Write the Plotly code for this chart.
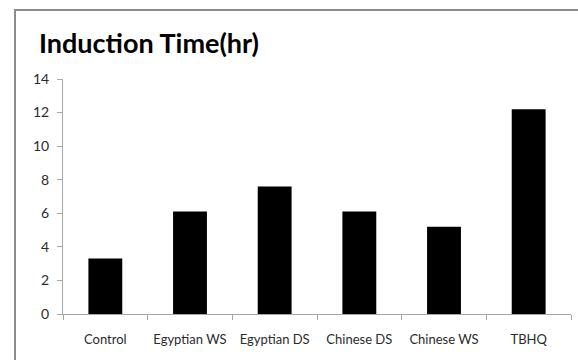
import plotly.graph_objects as go

categories = ["Control", "Egyptian WS", "Egyptian DS", "Chinese DS", "Chinese WS", "TBHQ"]
induction_time = [3.3, 6.1, 7.6, 6.1, 5.2, 12.2]
y_ticks = [0, 2, 4, 6, 8, 10, 12, 14]

W, H = 578, 360
# outer frame occupies the page from (FL, FT) to the bottom-right corner
FL, FT = 16, 11
fw, fh = W - FL, H - FT
# plot area in page pixels
PX0, PX1, PY0, PY1 = 63, 571, 79, 314

fig = go.Figure()
fig.add_trace(
    go.Bar(
        x=categories,
        y=induction_time,
        marker=dict(color="black", line=dict(width=0)),
        width=0.4,
    )
)
# empty trace that carries the frame axes
fig.add_trace(go.Scatter(x=[], y=[], xaxis="x2", yaxis="y2", hoverinfo="skip"))

axis_gray = "#a6a6a6"
frame_gray = "#8c8c8c"
fig.update_layout(
    width=W,
    height=H,
    margin=dict(l=FL, r=0, t=FT, b=0),
    paper_bgcolor="white",
    plot_bgcolor="rgba(0,0,0,0)",
    showlegend=False,
    dragmode=False,
    font=dict(family="Lato", color="#2b2b2b", size=13),
    title=dict(
        text="<b>Induction Time(hr)</b>",
        font=dict(family="Lato", size=27, color="black"),
        x=39 / W,
        xanchor="left",
        xref="container",
        y=1 - 44 / H,
        yanchor="middle",
        yref="container",
    ),
    xaxis=dict(
        type="category",
        domain=[(PX0 - FL) / fw, (PX1 - FL) / fw],
        range=[-0.5, 5.5],
        automargin=False,
        fixedrange=True,
        showgrid=False,
        showline=True,
        linecolor=axis_gray,
        linewidth=1,
        ticks="outside",
        tickson="boundaries",
        ticklen=5,
        tickcolor=axis_gray,
        tickangle=0,
        tickfont=dict(size=13),
        ticklabelstandoff=13,
    ),
    yaxis=dict(
        domain=[(H - PY1) / fh, (H - PY0) / fh],
        range=[0, 14],
        tickvals=y_ticks,
        automargin=False,
        fixedrange=True,
        showgrid=False,
        zeroline=False,
        showline=True,
        linecolor=axis_gray,
        linewidth=1,
        ticks="outside",
        ticklen=5,
        tickcolor=axis_gray,
        tickfont=dict(size=14),
        ticklabelstandoff=5,
    ),
    xaxis2=dict(
        domain=[0, 1], anchor="y2", side="top", range=[0, 1],
        showline=True, linecolor=frame_gray, linewidth=2,
        showgrid=False, zeroline=False, showticklabels=False, ticks="",
        fixedrange=True,
    ),
    yaxis2=dict(
        domain=[0, 1], anchor="x2", side="left", range=[0, 1],
        showline=True, linecolor=frame_gray, linewidth=2,
        showgrid=False, zeroline=False, showticklabels=False, ticks="",
        fixedrange=True,
    ),
)

fig.write_html("out.html", config={"staticPlot": True})
